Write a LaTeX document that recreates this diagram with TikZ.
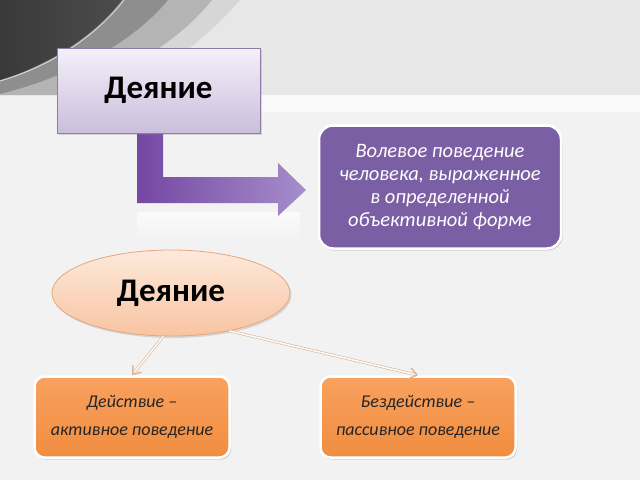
\documentclass[tikz,border=0pt]{standalone}
\usepackage{fontspec}
\setmainfont{Carlito}
\usetikzlibrary{shapes.geometric,arrows.meta,shadows}
\definecolor{bgtop}{HTML}{E7E7E7}
\definecolor{bgbot}{HTML}{F2F2F2}
\definecolor{swdark}{HTML}{4C4C4C}
\definecolor{swmid}{HTML}{8E8E8E}
\definecolor{swlight}{HTML}{B4B4B4}
\definecolor{swpale}{HTML}{D6D6D6}
\definecolor{lavtop}{HTML}{F4F0F9}
\definecolor{lavbot}{HTML}{CBBEDD}
\definecolor{lavdraw}{HTML}{8C7DA8}
\definecolor{purp}{HTML}{7A5FA4}
\definecolor{arrdark}{HTML}{7447A3}
\definecolor{arrlight}{HTML}{A68ECB}
\definecolor{peachtop}{HTML}{FDE9DB}
\definecolor{peachbot}{HTML}{F8C4A2}
\definecolor{peachdraw}{HTML}{E5A77D}
\definecolor{orangetop}{HTML}{F9A15F}
\definecolor{orangebot}{HTML}{F08D3F}
\definecolor{connc}{HTML}{D8B898}
\tikzset{
  x=1pt,y=-1pt,
  topbox/.style={draw=lavdraw,line width=0.8pt,top color=lavtop,bottom color=lavbot,
    minimum width=203pt,minimum height=85pt,inner sep=0pt,
    font=\fontsize{33}{38}\selectfont\bfseries,
    drop shadow={shadow xshift=2pt,shadow yshift=-2pt,opacity=0.25}},
  defbox/.style={draw=white,line width=2.5pt,fill=purp,rounded corners=14pt,
    minimum width=242pt,minimum height=123pt,inner sep=0pt,align=center,
    text=white,font=\fontsize{20.5}{23}\selectfont\itshape,
    drop shadow={shadow xshift=1.5pt,shadow yshift=-2pt,opacity=0.3}},
  ovalnode/.style={ellipse,draw=peachdraw,line width=0.8pt,top color=peachtop,bottom color=peachbot,
    minimum width=238pt,minimum height=86pt,inner sep=0pt,
    font=\fontsize{33}{38}\selectfont\bfseries,
    drop shadow={shadow xshift=1.5pt,shadow yshift=-2pt,opacity=0.25}},
  kindbox/.style={draw=white,line width=2.5pt,top color=orangetop,bottom color=orangebot,rounded corners=10pt,
    minimum width=195pt,minimum height=81pt,inner sep=0pt,align=center,
    text=black!85,font=\fontsize{18}{28}\selectfont\itshape,
    drop shadow={shadow xshift=1.5pt,shadow yshift=-2pt,opacity=0.3}},
  conn/.style={draw=connc,line width=0.6pt,double=white!92!connc,double distance=1.6pt,
    -{Straight Barb[length=7pt,width=11pt,line width=1.5pt]}},
}
\begin{document}
\begin{tikzpicture}
\useasboundingbox (0,0) rectangle (640,480);
% background
\fill[bgtop] (0,0) rectangle (640,95);
\fill[bgbot] (0,95) rectangle (640,480);
\fill[white!50!bgbot] (260,95) rectangle (640,112);
% swoosh top-left
\fill[swpale] (0,0) -- (240,0) .. controls (205,40) and (160,75) .. (110,95) -- (0,95) -- cycle;
\fill[swlight] (0,0) -- (212,0) .. controls (180,40) and (125,75) .. (60,95) -- (0,95) -- cycle;
\fill[swmid] (0,0) -- (168,0) .. controls (135,40) and (75,75) .. (0,94) -- cycle;
\shade[left color=swdark!75!black,right color=swdark] (0,0) -- (122,0) .. controls (95,35) and (50,65) .. (0,80) -- cycle;
\draw[white!70!swmid,line width=0.8pt] (124,0) .. controls (97,35) and (52,66) .. (0,81);
% L arrow reflection
\shade[top color=white!70!bgbot,bottom color=bgbot] (137,212) rectangle (300,240);
% L arrow
\shade[left color=arrdark,right color=arrlight]
  (137,133) -- (163,133) -- (163,177) -- (278,177) -- (278,163) -- (306,190)
  -- (278,216) -- (278,203) -- (137,203) -- cycle;
% nodes
\node[topbox] (top) at (158.5,90.5) {Деяние};
\node[defbox] (def) at (440,187) {Волевое поведение\\человека, выраженное\\в определенной\\объективной форме};
\node[ovalnode] (oval) at (171,293) {Деяние};
\node[kindbox] (act) at (132,417) {Действие –\\активное поведение};
\node[kindbox] (pas) at (418,417) {Бездействие –\\пассивное поведение};
% connectors
\draw[conn] (oval.-100) -- (act.north);
\draw[conn] (oval.-33) -- (pas.north);
\end{tikzpicture}
\end{document}
